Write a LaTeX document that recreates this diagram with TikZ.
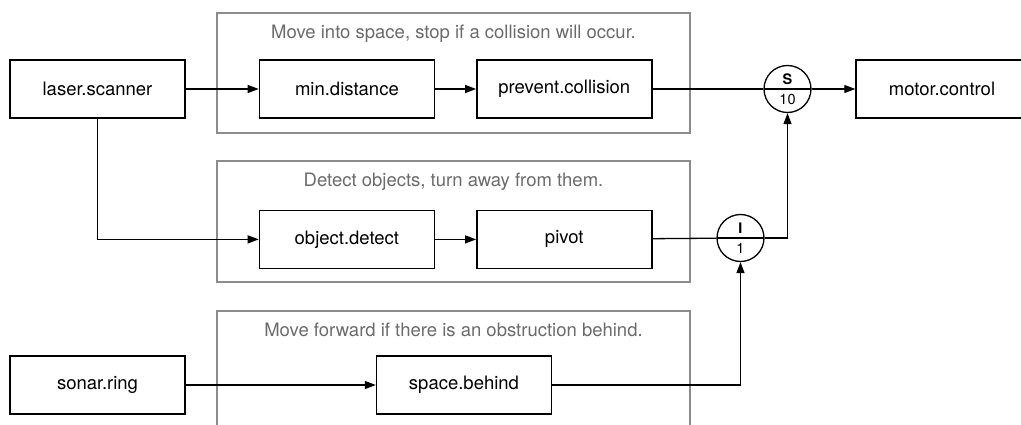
\documentclass[tikz,border=0pt]{standalone}
\usepackage{fontspec}
\setmainfont{TeX Gyre Heros}
\usepackage{tikz}
\usetikzlibrary{arrows.meta,positioning}

\begin{document}
\begin{tikzpicture}[
    x=1pt,y=1pt,
    >={Triangle[length=11pt,width=8pt]},
    flow/.style={->,draw=black,line width=1.3pt},
    wire/.style={draw=black,line width=1.3pt},
    block/.style={draw=black,fill=white,line width=1.4pt,minimum width=175pt,
      minimum height=58pt,inner sep=0pt,font=\fontsize{18.5}{21}\selectfont},
    junction/.style={circle,draw=black,fill=white,line width=1.3pt,
      minimum size=47pt,inner sep=0pt,align=center,
      font=\fontsize{14.5}{17}\selectfont,
      path picture={\draw[line width=1.3pt] (path picture bounding box.west)
        -- (path picture bounding box.east);}},
    group/.style={draw=black!45,line width=1.3pt,inner sep=0pt},
    caption/.style={text=black!58,font=\fontsize{18.5}{21}\selectfont}
  ]
    \clip (0,0) rectangle (1021,424);

    % behaviour groups
    \node[group,minimum width=473pt,minimum height=120pt] (grp1) at (453.5,351) {};
    \node[group,minimum width=473pt,minimum height=121pt] (grp2) at (453.5,202.5) {};
    \node[group,minimum width=473pt,minimum height=118pt] (grp3) at (453.5,54) {};
    \node[caption,below=9pt of grp1.north] (cap1) {Move into space, stop if a collision will occur.};
    \node[caption,below=9pt of grp2.north] (cap2) {Detect objects, turn away from them.};
    \node[caption,below=9pt of grp3.north] (cap3) {Move forward if there is an obstruction behind.};

    % sensors and modules
    \node[block] (laser) at (97.5,335) {laser.scanner};
    \node[block,right=73pt of laser] (mindist) {min.distance};
    \node[block,right=41pt of mindist] (prevent) {prevent.collision};
    \node[block,below=91pt of mindist] (objdet) {object.detect};
    \node[block,right=41pt of objdet] (pivot) {pivot};
    \node[block] (sonar) at (97.5,39) {sonar.ring};
    \node[block] (spacebh) at (464,39) {space.behind};
    \node[block,minimum width=172pt] (motor) at (942,335) {motor.control};

    % suppressor and inhibitor
    \node[junction] (supp) at (787.5,335) {\textbf{S}\\[3pt]10};
    \node[junction] (inhib) at (740.5,186) {\textbf{I}\\[3pt]1};

    \draw[flow] (laser) -- (mindist);
    \draw[flow] (mindist) -- (prevent);
    \draw[wire] (prevent) -- (supp);
    \draw[flow] (supp) -- (motor);
    \draw[flow] (laser.south) |- (objdet.west);
    \draw[flow] (objdet) -- (pivot);
    \draw[wire] (pivot) -- (inhib);
    \draw[flow] (inhib.east) -| (supp.south);
    \draw[flow] (sonar) -- (spacebh);
    \draw[flow] (spacebh.east) -| (inhib.south);
\end{tikzpicture}
\end{document}
